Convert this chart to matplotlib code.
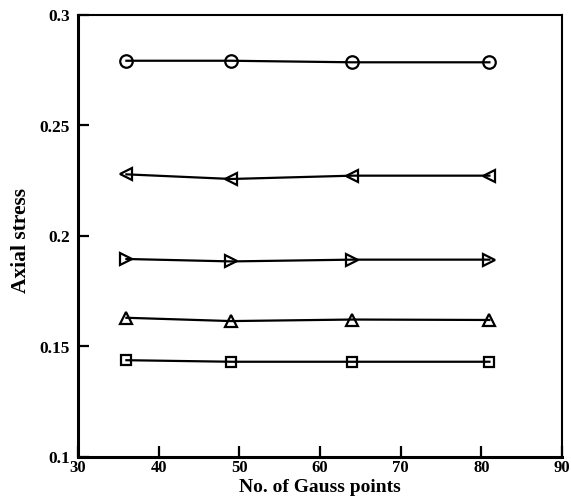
import numpy as np
import matplotlib.pyplot as plt

plt.rcParams['font.family'] = 'Liberation Serif'
plt.rcParams['font.weight'] = 'bold'

gauss_points = [36, 49, 64, 81]
s_circle = [0.2793, 0.2793, 0.2786, 0.2786]
s_left = [0.2279, 0.2258, 0.2273, 0.2273]
s_right = [0.1896, 0.1885, 0.1893, 0.1893]
s_up = [0.1630, 0.1615, 0.1622, 0.1620]
s_square = [0.1438, 0.1431, 0.1431, 0.1431]

series = [(s_circle, 'o'), (s_left, '<'), (s_right, '>'), (s_up, '^'), (s_square, 's')]
sizes = {'o': 9, '<': 8.5, '>': 8.5, '^': 9, 's': 7.5}

fig = plt.figure(figsize=(5.71, 4.98), dpi=100)
ax = fig.add_axes([78 / 571, 1 - 457 / 498, (562 - 78) / 571, (457 - 15) / 498])

for vals, m in series:
    ax.plot(gauss_points, vals, '-', color='black', lw=1.6, marker=m,
            markersize=sizes[m], markerfacecolor='none', markeredgewidth=1.6)

ax.set_xlim(30, 90)
ax.set_ylim(0.1, 0.3)
ax.set_xticks([30, 40, 50, 60, 70, 80, 90])
ax.set_yticks([0.1, 0.15, 0.2, 0.25, 0.3])
ax.set_yticklabels(['0.1', '0.15', '0.2', '0.25', '0.3'])
ax.tick_params(direction='in', length=8, width=1.6, labelsize=12.5)
ax.tick_params(axis='x', labelsize=12, pad=2)
ax.tick_params(axis='y', pad=6)
for lab in ax.get_xticklabels() + ax.get_yticklabels():
    lab.set_fontweight('bold')
for side in ['left', 'bottom']:
    ax.spines[side].set_linewidth(2.2)
for side in ['top', 'right']:
    ax.spines[side].set_linewidth(1.5)

ax.set_xlabel('No. of Gauss points', fontsize=14, fontweight='bold')
ax.set_ylabel('Axial stress', fontsize=15.5, fontweight='bold')
ax.xaxis.set_label_coords(0.5, -0.049)
ax.yaxis.set_label_coords(-0.097, 0.49)

fig.savefig('out.png', dpi=100)
